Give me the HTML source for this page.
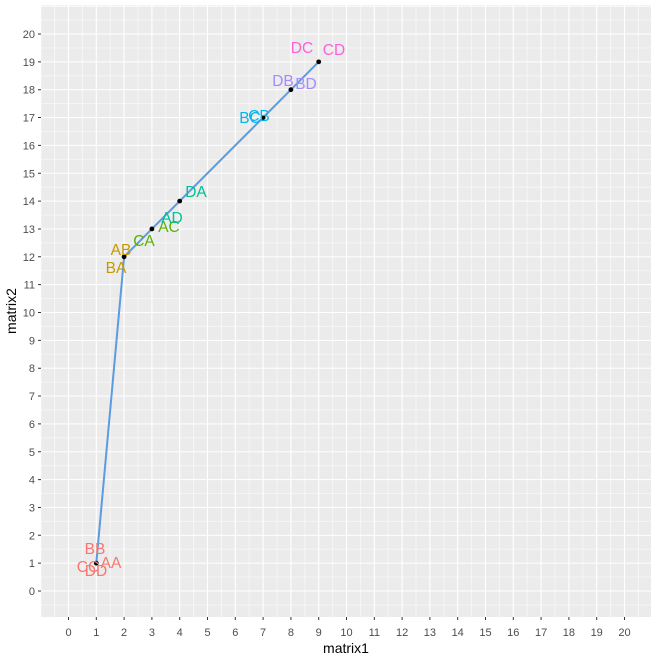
<!DOCTYPE html>
<html><head><meta charset="utf-8"><style>body{margin:0;background:#fff}svg{display:block}</style></head>
<body>
<svg width="657" height="659" xmlns="http://www.w3.org/2000/svg" font-family="Liberation Sans, sans-serif">
<defs>
<pattern id="g" patternUnits="userSpaceOnUse" x="68.5" y="34" width="27.8" height="27.85">
<rect width="27.8" height="27.85" fill="#EBEBEB"/>
<line x1="13.9" y1="0" x2="13.9" y2="27.85" stroke="#fff" stroke-width="0.55"/>
<line x1="0" y1="13.925" x2="27.8" y2="13.925" stroke="#fff" stroke-width="0.55"/>
<line x1="0" y1="0" x2="0" y2="27.85" stroke="#fff" stroke-width="1.1"/>
<line x1="27.8" y1="0" x2="27.8" y2="27.85" stroke="#fff" stroke-width="1.1"/>
<line x1="0" y1="0" x2="27.8" y2="0" stroke="#fff" stroke-width="1.1"/>
<line x1="0" y1="27.85" x2="27.8" y2="27.85" stroke="#fff" stroke-width="1.1"/>
</pattern>
</defs>
<rect x="41" y="5" width="610" height="612" fill="url(#g)"/>
<polyline points="96.3,563.15 124.1,256.8 151.9,228.95 179.7,201.1 263.1,117.55 290.9,89.7 318.7,61.85" fill="none" stroke="#5B9BE0" stroke-width="2"/>
<g fill="#000">
<circle cx="96.3" cy="563.15" r="2.4"/><circle cx="124.1" cy="256.8" r="2.4"/><circle cx="151.9" cy="228.95" r="2.4"/><circle cx="179.7" cy="201.1" r="2.4"/><circle cx="263.1" cy="117.55" r="2.4"/><circle cx="290.9" cy="89.7" r="2.4"/><circle cx="318.7" cy="61.85" r="2.4"/>
</g>
<g font-size="15.5" text-anchor="middle">
<text x="95" y="554" fill="#F8766D">BB</text>
<text x="88" y="572" fill="#F8766D">CC</text>
<text x="96" y="576" fill="#F8766D">DD</text>
<text x="111" y="568" fill="#F8766D">AA</text>
<text x="116" y="273" fill="#C49A00">BA</text>
<text x="121" y="255" fill="#C49A00">AB</text>
<text x="144" y="246" fill="#53B400">CA</text>
<text x="169" y="232" fill="#53B400">AC</text>
<text x="172" y="223" fill="#00C094">AD</text>
<text x="196" y="197" fill="#00C094">DA</text>
<text x="250" y="123" fill="#00B6EB">BC</text>
<text x="259" y="121" fill="#00B6EB">CB</text>
<text x="283" y="86" fill="#A58AFF">DB</text>
<text x="306" y="89" fill="#A58AFF">BD</text>
<text x="302" y="53" fill="#FB61D7">DC</text>
<text x="334" y="55" fill="#FB61D7">CD</text>
</g>
<g stroke="#333" stroke-width="1">
<path d="M68.5 617v3M96.3 617v3M124.1 617v3M151.9 617v3M179.7 617v3M207.5 617v3M235.3 617v3M263.1 617v3M290.9 617v3M318.7 617v3M346.5 617v3M374.3 617v3M402.1 617v3M429.9 617v3M457.7 617v3M485.5 617v3M513.3 617v3M541.1 617v3M568.9 617v3M596.7 617v3M624.5 617v3"/>
<path d="M38 591h3M38 563.15h3M38 535.3h3M38 507.45h3M38 479.6h3M38 451.75h3M38 423.9h3M38 396.05h3M38 368.2h3M38 340.35h3M38 312.5h3M38 284.65h3M38 256.8h3M38 228.95h3M38 201.1h3M38 173.25h3M38 145.4h3M38 117.55h3M38 89.7h3M38 61.85h3M38 34h3"/>
</g>
<g font-size="11" fill="#4D4D4D" text-anchor="middle">
<text x="68.5" y="636">0</text><text x="96.3" y="636">1</text><text x="124.1" y="636">2</text><text x="151.9" y="636">3</text><text x="179.7" y="636">4</text><text x="207.5" y="636">5</text><text x="235.3" y="636">6</text><text x="263.1" y="636">7</text><text x="290.9" y="636">8</text><text x="318.7" y="636">9</text><text x="346.5" y="636">10</text><text x="374.3" y="636">11</text><text x="402.1" y="636">12</text><text x="429.9" y="636">13</text><text x="457.7" y="636">14</text><text x="485.5" y="636">15</text><text x="513.3" y="636">16</text><text x="541.1" y="636">17</text><text x="568.9" y="636">18</text><text x="596.7" y="636">19</text><text x="624.5" y="636">20</text>
</g>
<g font-size="11" fill="#4D4D4D" text-anchor="end">
<text x="35" y="595">0</text><text x="35" y="567.15">1</text><text x="35" y="539.3">2</text><text x="35" y="511.45">3</text><text x="35" y="483.6">4</text><text x="35" y="455.75">5</text><text x="35" y="427.9">6</text><text x="35" y="400.05">7</text><text x="35" y="372.2">8</text><text x="35" y="344.35">9</text><text x="35" y="316.5">10</text><text x="35" y="288.65">11</text><text x="35" y="260.8">12</text><text x="35" y="232.95">13</text><text x="35" y="205.1">14</text><text x="35" y="177.25">15</text><text x="35" y="149.4">16</text><text x="35" y="121.55">17</text><text x="35" y="93.7">18</text><text x="35" y="65.85">19</text><text x="35" y="38">20</text>
</g>
<text x="346" y="653" font-size="14" text-anchor="middle" fill="#000">matrix1</text>
<text transform="translate(16,311) rotate(-90)" font-size="14" text-anchor="middle" fill="#000">matrix2</text>
</svg>
</body></html>
